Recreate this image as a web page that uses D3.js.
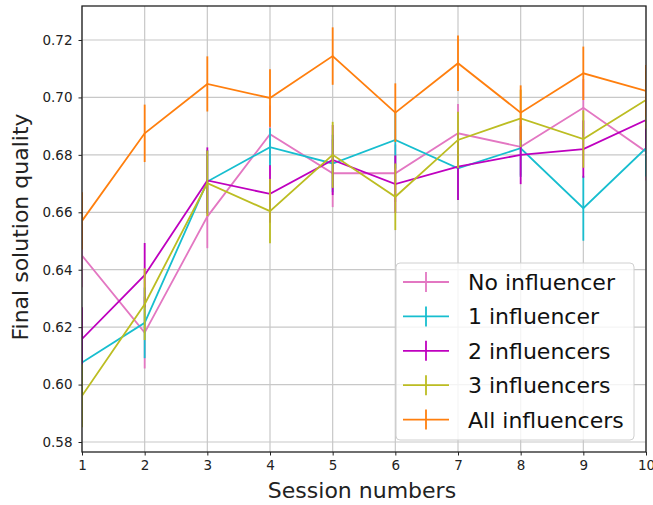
<!DOCTYPE html>
<html><head><meta charset="utf-8">
<script src="https://cdn.jsdelivr.net/npm/d3@7"></script>
<style>body{margin:0;background:#fff}svg{display:block;font-family:"DejaVu Sans",sans-serif}</style>
</head><body><svg id="c" width="653" height="505"></svg>
<script>
const sessions = [1,2,3,4,5,6,7,8,9,10];
const seriesNames = ["No influencer","1 influencer","2 influencers","3 influencers","All influencers"];
const colors = ["#e377c2","#17becf","#bf00bf","#bcbd22","#ff7f0e"];
const noInf   = [0.6449,0.6181,0.6585,0.6872,0.6736,0.6736,0.6875,0.6828,0.6964,0.6811];
const noInfErr= [0.0110,0.0125,0.0110,0.0100,0.0118,0.0100,0.0102,0.0100,0.0100,0.0100];
const one     = [0.6077,0.6215,0.6707,0.6827,0.6770,0.6852,0.6753,0.6823,0.6614,0.6823];
const oneErr  = [0.0110,0.0123,0.0110,0.0066,0.0100,0.0100,0.0110,0.0100,0.0113,0.0098];
const two     = [0.6159,0.6381,0.6711,0.6664,0.6782,0.6698,0.6759,0.6800,0.6820,0.6921];
const twoErr  = [0.0110,0.0112,0.0115,0.0100,0.0122,0.0100,0.0116,0.0102,0.0100,0.0100];
const three   = [0.5961,0.6280,0.6701,0.6604,0.6800,0.6654,0.6852,0.6927,0.6855,0.6991];
const threeErr= [0.0110,0.0125,0.0114,0.0112,0.0115,0.0116,0.0098,0.0100,0.0100,0.0100];
const all     = [0.6570,0.6875,0.7047,0.6998,0.7144,0.6947,0.7119,0.6947,0.7084,0.7023];
const allErr  = [0.0100,0.0100,0.0096,0.0100,0.0100,0.0102,0.0097,0.0095,0.0093,0.0090];
const yTicks = [0.58,0.60,0.62,0.64,0.66,0.68,0.70,0.72];
const xTicks = [1,2,3,4,5,6,7,8,9,10];
const values = [noInf, one, two, three, all];
const errs = [noInfErr, oneErr, twoErr, threeErr, allErr];

const svg = d3.select("#c");
const L=82, R=646, T=6, B=452;
const x = d3.scaleLinear().domain([1,10]).range([L,R]);
const y = d3.scaleLinear().domain([0.57652,0.73184]).range([B,T]);

svg.append("defs").append("clipPath").attr("id","clip").append("rect")
  .attr("x",L).attr("y",T).attr("width",R-L).attr("height",B-T);

const g = svg.append("g");
g.selectAll(".gy").data(yTicks).join("line")
  .attr("x1",L).attr("x2",R).attr("y1",d=>y(d)).attr("y2",d=>y(d))
  .attr("stroke","#c8c8c8").attr("stroke-width",1.2);
g.selectAll(".gx").data(xTicks).join("line")
  .attr("y1",T).attr("y2",B).attr("x1",d=>x(d)).attr("x2",d=>x(d))
  .attr("stroke","#c8c8c8").attr("stroke-width",1.2);

const plot = svg.append("g").attr("clip-path","url(#clip)");
const line = d3.line().x((d,i)=>x(sessions[i])).y(d=>y(d));
values.forEach((vals,k)=>{
  const sg = plot.append("g");
  sg.append("path").datum(vals).attr("d",line).attr("fill","none")
    .attr("stroke",colors[k]).attr("stroke-width",1.8);
  sg.selectAll("line").data(vals).join("line")
    .attr("x1",(d,i)=>x(sessions[i])).attr("x2",(d,i)=>x(sessions[i]))
    .attr("y1",(d,i)=>y(d-errs[k][i])).attr("y2",(d,i)=>y(d+errs[k][i]))
    .attr("stroke",colors[k]).attr("stroke-width",1.8);
});

const xa = svg.append("g").attr("transform",`translate(0,${B})`)
  .call(d3.axisBottom(x).tickValues(xTicks).tickSize(3.5).tickPadding(4.5).tickFormat(d3.format("d")));
const ya = svg.append("g").attr("transform",`translate(${L},0)`)
  .call(d3.axisLeft(y).tickValues(yTicks).tickSize(3.5).tickPadding(6).tickFormat(d3.format(".2f")));
[xa,ya].forEach(a=>{
  a.select(".domain").remove();
  a.selectAll("text").attr("font-size",13.5).attr("fill","#222").attr("font-family","DejaVu Sans");
  a.selectAll("line").attr("stroke","#222");
});
svg.append("rect").attr("x",L).attr("y",T).attr("width",R-L).attr("height",B-T)
  .attr("fill","none").attr("stroke","#222").attr("stroke-width",1.3);

svg.append("text").attr("x",362).attr("y",498).attr("text-anchor","middle")
  .attr("font-size",22).attr("fill","#222").text("Session numbers");
svg.append("text").attr("transform",`translate(28,227) rotate(-90)`)
  .attr("text-anchor","middle").attr("font-size",22).attr("fill","#222").text("Final solution quality");

const lg = svg.append("g");
lg.append("rect").attr("x",396).attr("y",263).attr("width",238).attr("height",177).attr("rx",4)
  .attr("fill","#fff").attr("fill-opacity",0.8).attr("stroke","#d0d0d0");
seriesNames.forEach((n,i)=>{
  const cy = 282 + i*34.4;
  lg.append("line").attr("x1",403).attr("x2",449).attr("y1",cy).attr("y2",cy)
    .attr("stroke",colors[i]).attr("stroke-width",1.8);
  lg.append("line").attr("x1",426).attr("x2",426).attr("y1",cy-10).attr("y2",cy+10)
    .attr("stroke",colors[i]).attr("stroke-width",1.8);
  lg.append("text").attr("x",468).attr("y",cy+8).attr("font-size",22).attr("fill","#111").text(n);
});
</script></body></html>
